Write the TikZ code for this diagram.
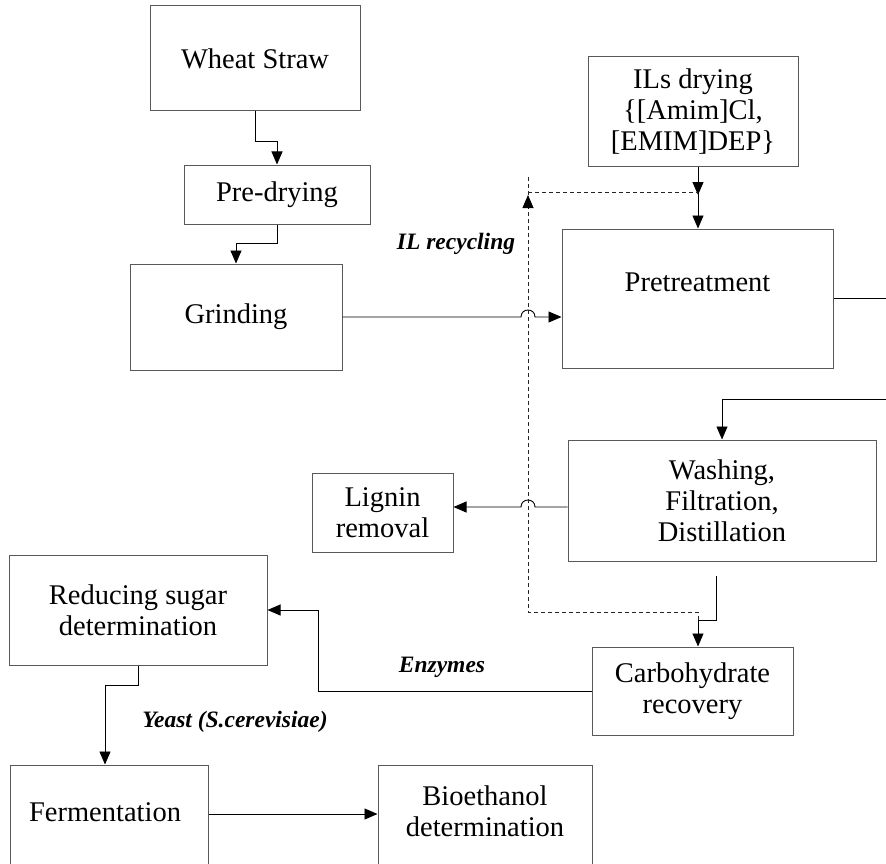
\documentclass[tikz,border=0pt]{standalone}
\usepackage{fontspec}
\setmainfont{Liberation Serif}
\usetikzlibrary{arrows.meta}
\begin{document}
\begin{tikzpicture}[x=1pt,y=-1pt,
 box/.style={draw=black!65, line width=1pt, inner sep=0pt, align=center, font=\fontsize{28.5}{31}\selectfont},
 btext/.style={inner sep=0pt, align=center, font=\fontsize{28.5}{31}\selectfont},
 conn/.style={draw=black, line width=0.9pt},
 arr/.style={conn, -{Triangle[length=13pt,width=11pt]}},
 recyc/.style={draw=black!85, line width=0.8pt, dash pattern=on 4pt off 3pt},
 lbl/.style={font=\fontsize{23.5}{27}\selectfont\bfseries\itshape}]
\useasboundingbox (0,0) rectangle (886,864);
\clip (0,0) rectangle (886,864);
% boxes
\node[box, minimum width=210pt, minimum height=105pt] (ws) at (255,58.5) {Wheat Straw};
\node[box, minimum width=186pt, minimum height=59pt] (pd) at (277,194.5) {Pre-drying};
\node[box, minimum width=212pt, minimum height=106pt] (gr) at (236,317) {Grinding};
\node[box, minimum width=210pt, minimum height=109pt] (il) at (693,111.5) {ILs drying\\\{[Amim]Cl,\\\relax[EMIM]DEP\}};
\node[box, minimum width=271pt, minimum height=139pt] (pt) at (697.5,298.5) {};
\node[btext] (ptt) at (697.5,282) {Pretreatment};
\node[box, minimum width=308pt, minimum height=121pt] (wa) at (722,500.5) {Washing,\\Filtration,\\Distillation};
\node[box, minimum width=141pt, minimum height=79pt] (lr) at (382.5,512.5) {Lignin\\removal};
\node[box, minimum width=201pt, minimum height=88pt] (cr) at (692.5,691) {Carbohydrate\\recovery};
\node[box, minimum width=258pt, minimum height=110pt] (rs) at (138,610) {Reducing sugar\\determination};
\node[box, minimum width=198pt, minimum height=107pt] (fe) at (109,818.5) {};
\node[btext] (fet) at (105,812) {Fermentation};
\node[box, minimum width=214pt, minimum height=107pt] (be) at (485,818.5) {};
\node[btext] (bet) at (485,811) {Bioethanol\\determination};
% labels
\node[lbl] (l1) at (456,244) {IL recycling};
\node[lbl] (l2) at (442,667) {Enzymes};
\node[lbl] (l3) at (235,722) {Yeast (S.cerevisiae)};
% helper coordinates
\coordinate (j1) at (698,192);
\coordinate (r0) at (698,620);
\coordinate (r1) at (698,612);
\coordinate (r2) at (528,612);
\coordinate (r3) at (528,176);
\coordinate (r4) at (528,192);
\coordinate (w1) at (716,620);
\coordinate (h1) at (528,317);
\coordinate (h2) at (528,507);
\coordinate (e1) at (886,298.5);
\coordinate (e2) at (886,399);
\coordinate (c5) at (318,610);
\coordinate (c6) at (0,814);
% connectors
\draw[arr] (ws.south) -- ++(0,30) -| (pd.north);
\draw[arr] (pd.south) -- ++(0,19) -| (gr.north);
\draw[arr] (gr.east) -- ([xshift=-7pt]h1) .. controls ([xshift=-7pt,yshift=9.3pt]h1) and ([xshift=7pt,yshift=9.3pt]h1) .. ([xshift=7pt]h1) -- (pt.west |- gr.east);
\draw[arr] (il.south -| j1) -- ([yshift=-3pt]j1);
\draw[arr] (j1) -- (pt.north -| j1);
\draw[conn] (pt.east) -- (e1);
\draw[arr] (e2) -| (wa.north);
\draw[arr] (wa.west |- h2) -- ([xshift=7pt]h2) .. controls ([xshift=7pt,yshift=9.3pt]h2) and ([xshift=-7pt,yshift=9.3pt]h2) .. ([xshift=-7pt]h2) -- (lr.east |- h2);
\draw[arr] ([yshift=-14pt]wa.south -| w1) -- (w1) -- (r0) -- (cr.north -| r0);
\draw[arr] (cr.west) -| (c5) -- (rs.east);
\draw[arr] (rs.south) -- ++(0,20) -| ([xshift=-4pt]fe.north);
\draw[arr] (fe.east |- c6) -- (be.west |- c6);
% IL recycling (dashed)
\draw[recyc] (r0) -- (r1) -- (r2) -- (r3);
\draw[recyc] (r4) -- (j1);
\draw[arr, line width=0.8pt] ([yshift=-16pt]r4) -- ([yshift=-3pt]r4);
\end{tikzpicture}
\end{document}
